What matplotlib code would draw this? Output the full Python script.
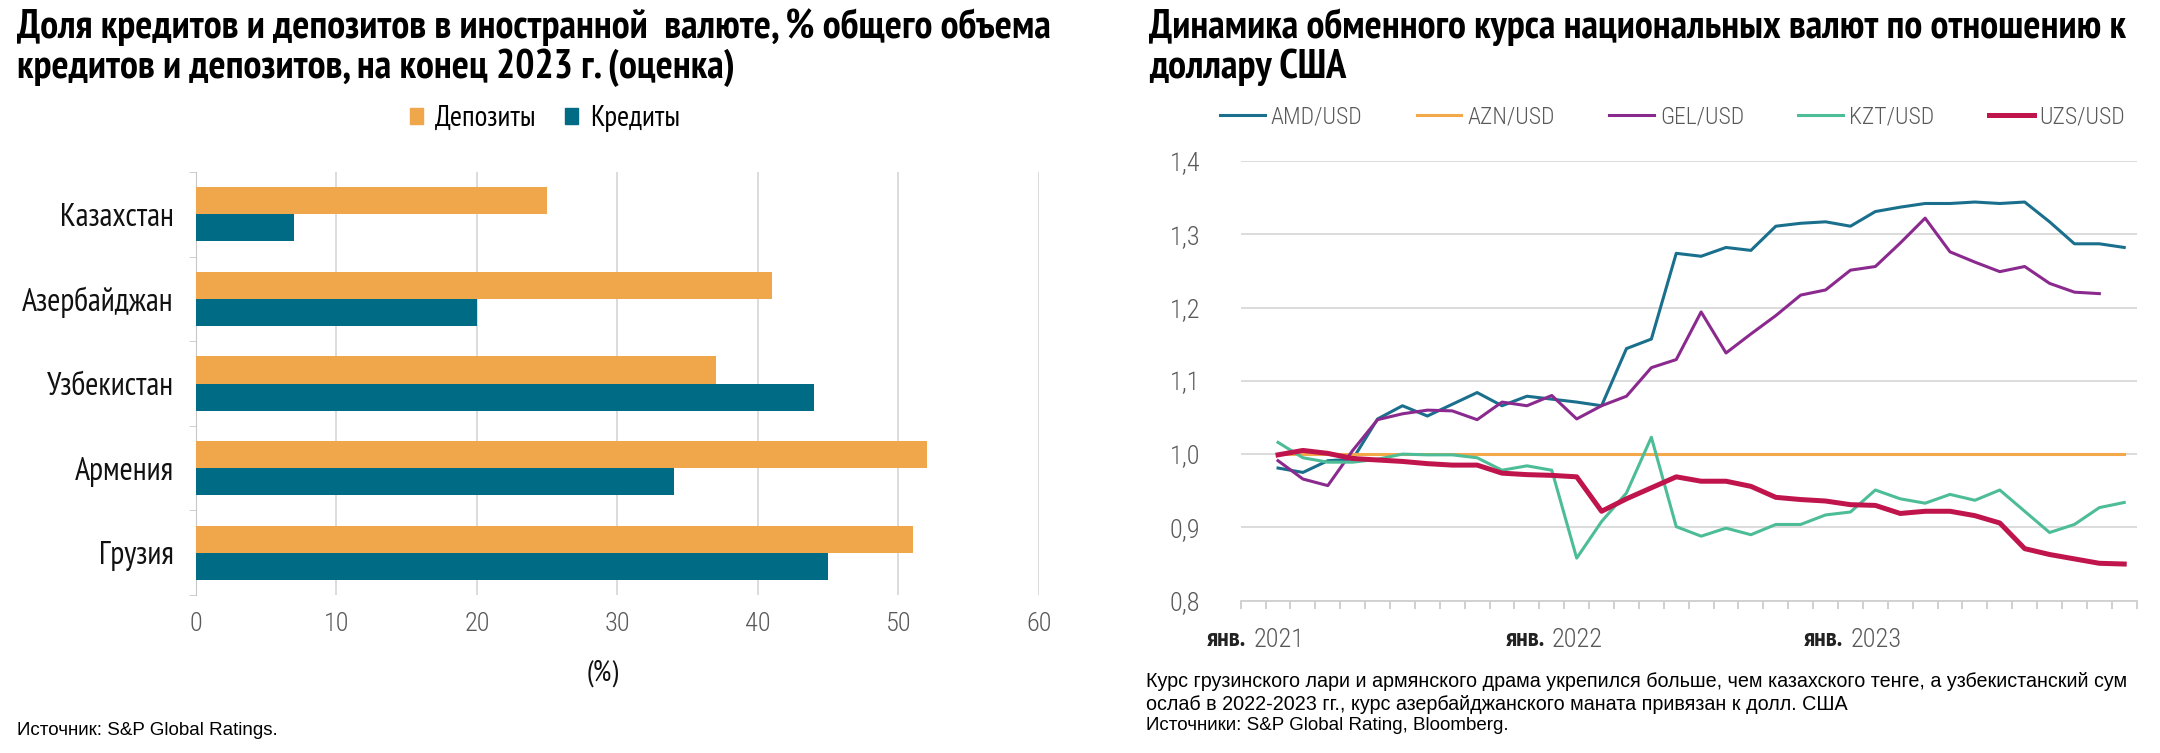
import matplotlib
matplotlib.use('Agg')
import matplotlib.pyplot as plt
from matplotlib import font_manager
from matplotlib.lines import Line2D
from matplotlib.patches import Patch
from matplotlib.transforms import blended_transform_factory
import numpy as np

names = {f.name for f in font_manager.fontManager.ttflist}
NARROW = 'PT Sans Narrow' if 'PT Sans Narrow' in names else 'Liberation Sans'
LIGHT = 'Roboto Condensed' if 'Roboto Condensed' in names else 'DejaVu Sans'
plt.rcParams['font.family'] = [NARROW, 'DejaVu Sans']

# left chart: share of FX loans and deposits, %
countries = ['Казахстан', 'Азербайджан', 'Узбекистан', 'Армения', 'Грузия']
deposits = [25, 41, 37, 52, 51]
credits = [7, 20, 44, 34, 45]

# right chart: monthly exchange rates vs USD, Feb 2021 - Dec 2023 (index, Jan 2021 = 1.0 base)
month_labels = [('янв.', '2021'), ('янв.', '2022'), ('янв.', '2023')]
amd = [0.981, 0.975, 0.991, 0.993, 1.048, 1.066, 1.052, 1.068, 1.084, 1.066,
       1.079, 1.075, 1.071, 1.066, 1.144, 1.157, 1.274, 1.270, 1.282, 1.278,
       1.311, 1.315, 1.317, 1.311, 1.331, 1.337, 1.342, 1.342, 1.344, 1.342,
       1.344, 1.317, 1.287, 1.287, 1.282]
azn = [1.0, 1.0, 1.0, 1.0, 1.0, 1.0, 1.0, 1.0, 1.0, 1.0,
       1.0, 1.0, 1.0, 1.0, 1.0, 1.0, 1.0, 1.0, 1.0, 1.0,
       1.0, 1.0, 1.0, 1.0, 1.0, 1.0, 1.0, 1.0, 1.0, 1.0,
       1.0, 1.0, 1.0, 1.0, 1.0]
gel = [0.991, 0.966, 0.957, 1.005, 1.047, 1.055, 1.060, 1.059, 1.047, 1.071,
       1.066, 1.080, 1.048, 1.066, 1.079, 1.118, 1.129, 1.194, 1.138, 1.164,
       1.189, 1.217, 1.224, 1.251, 1.256, 1.288, 1.322, 1.276, 1.262, 1.249,
       1.256, 1.233, 1.221, 1.219]
kzt = [1.016, 0.995, 0.989, 0.989, 0.993, 1.000, 0.999, 0.999, 0.995, 0.978,
       0.984, 0.978, 0.858, 0.908, 0.947, 1.023, 0.901, 0.888, 0.899, 0.890,
       0.904, 0.904, 0.917, 0.921, 0.951, 0.939, 0.933, 0.945, 0.937, 0.951,
       0.922, 0.893, 0.904, 0.927, 0.934]
uzs = [0.999, 1.005, 1.001, 0.994, 0.992, 0.990, 0.987, 0.985, 0.985, 0.974,
       0.972, 0.971, 0.969, 0.922, 0.939, 0.954, 0.969, 0.963, 0.963, 0.956,
       0.941, 0.938, 0.936, 0.931, 0.930, 0.919, 0.922, 0.922, 0.916, 0.906,
       0.871, 0.863, 0.857, 0.851, 0.850]

ORANGE = '#f0a64a'
TEAL = '#006b84'
GRID = '#d9d9d9'
TICK = '#595959'
light = dict(family=[LIGHT, 'DejaVu Sans'], weight=300)

fig = plt.figure(figsize=(21.6, 7.53), dpi=100)

# ---------- left chart ----------
ax1 = fig.add_axes([0.0907, 0.2098, 0.3903, 0.5618])
y = np.arange(len(countries))
h = 0.32
ax1.barh(y - h / 2, deposits, height=h, color=ORANGE, zorder=3)
ax1.barh(y + h / 2, credits, height=h, color=TEAL, zorder=3)
ax1.set_ylim(len(countries) - 0.5, -0.5)
ax1.set_xlim(0, 60)
ax1.set_xticks(range(0, 61, 10))
ax1.set_yticks(y)
ax1.set_yticklabels(countries, fontsize=23, color='#111111')
ax1.set_yticks(np.arange(-0.5, len(countries)), minor=True)
ax1.tick_params(axis='y', which='major', length=0, pad=16)
ax1.tick_params(axis='y', which='minor', length=5, color='#c8c8c8')
ax1.tick_params(axis='x', length=0, pad=12, labelsize=19, labelcolor=TICK)
for lab in ax1.get_xticklabels():
    lab.set_family(light['family'])
    lab.set_fontweight(300)
ax1.grid(axis='x', color=GRID, linewidth=1.3, zorder=0)
for s in ['top', 'right', 'bottom']:
    ax1.spines[s].set_visible(False)
ax1.spines['left'].set_color('#c8c8c8')
ax1.set_xlabel('(%)', fontsize=21, labelpad=17, color='#111111')
ax1.xaxis.label.set_x(0.482)
ax1.legend(handles=[Patch(color=ORANGE, label='Депозиты'), Patch(color=TEAL, label='Кредиты')],
           loc='center', bbox_to_anchor=(0.414, 1.126), ncol=2, frameon=False,
           fontsize=21, handlelength=0.45, handleheight=0.45, columnspacing=1.0, handletextpad=0.4)

fig.text(0.008, 0.989, 'Доля кредитов и депозитов в иностранной  валюте, % общего объема\n'
         'кредитов и депозитов, на конец 2023 г. (оценка)',
         fontsize=29, fontweight='bold', va='top', ha='left', linespacing=1.08)
fig.text(0.008, 0.0305, 'Источник: S&P Global Ratings.', fontsize=13.5, ha='left', va='center',
         family='Liberation Sans')

# ---------- right chart ----------
ax2 = fig.add_axes([0.5744, 0.2023, 0.4148, 0.5839])
series = [('AMD/USD', amd, '#1a6f8c', 2.2),
          ('AZN/USD', azn, '#f3a84a', 2.2),
          ('GEL/USD', gel, '#8b2a8e', 2.2),
          ('KZT/USD', kzt, '#4dbd97', 2.2),
          ('UZS/USD', uzs, '#c0154c', 3.6)]
for name, vals, col, lw in series:
    x = np.arange(1, len(vals) + 1)
    ax2.plot(x, vals, color=col, linewidth=lw, label=name, zorder=3)
ax2.set_xlim(-0.5, 35.5)
ax2.set_ylim(0.8, 1.4)
ax2.set_yticks([0.8, 0.9, 1.0, 1.1, 1.2, 1.3, 1.4])
ax2.set_yticklabels(['0,8', '0,9', '1,0', '1,1', '1,2', '1,3', '1,4'])
ax2.set_xticks([])
ax2.set_xticks(np.arange(-0.5, 36), minor=True)
ax2.tick_params(axis='x', which='minor', length=6, color='#c8c8c8', width=1.2)
ax2.tick_params(axis='y', length=0, pad=29, labelsize=19, labelcolor=TICK)
for lab in ax2.get_yticklabels():
    lab.set_family(light['family'])
    lab.set_fontweight(300)
tr = blended_transform_factory(ax2.transData, ax2.transAxes)
for i, (mon, yr) in enumerate(month_labels):
    ax2.annotate(mon, (i * 12, 0), xycoords=tr, xytext=(-5, -28), textcoords='offset points',
                 ha='right', va='center', fontsize=19, fontweight='bold', color='#222222')
    ax2.annotate(yr, (i * 12, 0), xycoords=tr, xytext=(0, -28), textcoords='offset points',
                 ha='left', va='center', fontsize=19, color=TICK, **light)
ax2.grid(axis='y', color=GRID, linewidth=1.3, zorder=0)
for s in ['top', 'right', 'left']:
    ax2.spines[s].set_visible(False)
ax2.spines['bottom'].set_color('#d0d0d0')
ax2.spines['bottom'].set_linewidth(1.3)
ax2.legend(handles=[Line2D([], [], color=c, linewidth=lw) for _, _, c, lw in series],
           labels=[n for n, _, _, _ in series], loc='center', bbox_to_anchor=(0.482, 1.10),
           ncol=5, frameon=False, labelcolor=TICK, handlelength=1.9,
           columnspacing=2.3, handletextpad=0.25,
           prop=dict(family=[LIGHT, 'DejaVu Sans'], weight=300, size=17))

fig.text(0.532, 0.989, 'Динамика обменного курса национальных валют по отношению к\nдоллару США',
         fontsize=29, fontweight='bold', va='top', ha='left', linespacing=1.08)
fig.text(0.5305, 0.0797, 'Курс грузинского лари и армянского драма укрепился больше, чем казахского тенге, а узбекистанский сум\n'
         'ослаб в 2022-2023 гг., курс азербайджанского маната привязан к долл. США',
         fontsize=14.2, ha='left', va='center', linespacing=1.25, family='Liberation Sans')
fig.text(0.5305, 0.0359, 'Источники: S&P Global Rating, Bloomberg.', fontsize=13.5, ha='left',
         va='center', family='Liberation Sans')

fig.savefig('out.png', dpi=100)
